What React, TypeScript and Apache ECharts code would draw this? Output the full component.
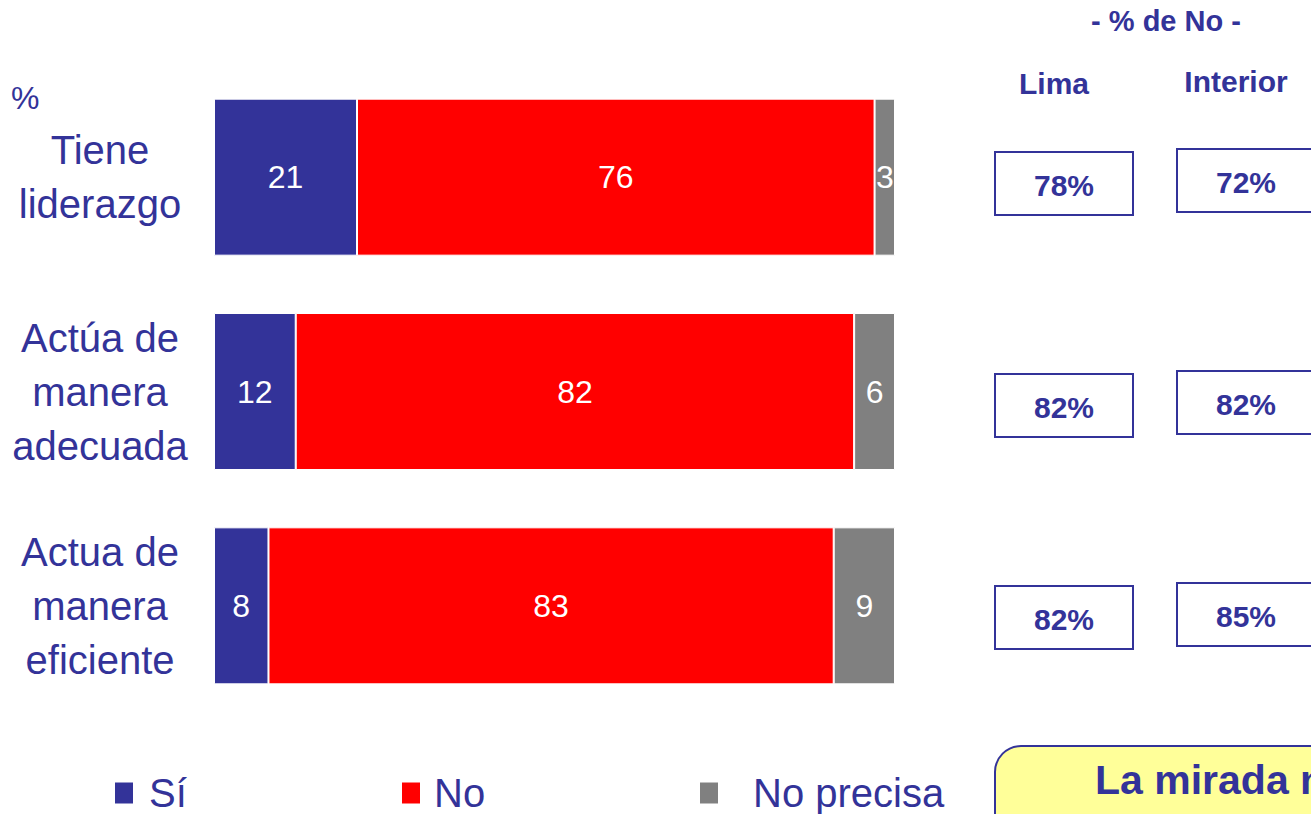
import React, { useEffect, useRef } from "react";
import * as echarts from "echarts";

const categories = ["Tiene\nliderazgo", "Actúa de\nmanera\nadecuada", "Actua de\nmanera\neficiente"];
const siValues = [21, 12, 8];
const noValues = [76, 82, 83];
const noPrecisaValues = [3, 6, 9];
const limaNo = [78, 82, 82];
const interiorNo = [72, 82, 85];
const seriesNames = ["Sí", "No", "No precisa"];

const FONT = "Liberation Sans, Arial, sans-serif";
const BLUE = "#333399";

// layout constants (positions only)
const limaBoxTop = [152, 374, 586];
const interiorBoxTop = [149, 371, 583];

export default function App() {
  const ref = useRef<HTMLDivElement>(null);
  useEffect(() => {
    if (!ref.current) return;
    const chart = echarts.init(ref.current, undefined, { renderer: "svg" });

    const boxes: any[] = [];
    limaNo.forEach((v, i) => {
      boxes.push({
        type: "rect",
        shape: { x: 995, y: limaBoxTop[i], width: 138, height: 63 },
        style: { fill: "#fff", stroke: BLUE, lineWidth: 2 },
      });
      boxes.push({
        type: "text",
        x: 1064,
        y: limaBoxTop[i] + 33,
        style: { text: v + "%", fill: BLUE, font: `bold 30px ${FONT}`, align: "center", verticalAlign: "middle" },
      });
    });
    interiorNo.forEach((v, i) => {
      boxes.push({
        type: "rect",
        shape: { x: 1177, y: interiorBoxTop[i], width: 138, height: 63 },
        style: { fill: "#fff", stroke: BLUE, lineWidth: 2 },
      });
      boxes.push({
        type: "text",
        x: 1246,
        y: interiorBoxTop[i] + 33,
        style: { text: v + "%", fill: BLUE, font: `bold 30px ${FONT}`, align: "center", verticalAlign: "middle" },
      });
    });

    const legendBase = {
      orient: "horizontal",
      top: 773,
      padding: 0,
      itemWidth: 20,
      itemHeight: 23,
      icon: "rect",
      selectedMode: false,
    };

    chart.setOption({
      animation: false,
      textStyle: { fontFamily: FONT },
      color: [BLUE, "#FF0000", "#808080"],
      grid: { left: 214, right: 416, top: 70, bottom: 101 },
      xAxis: { type: "value", min: 0, max: 100, show: false },
      yAxis: {
        type: "category",
        data: categories,
        inverse: true,
        axisLine: { show: false },
        axisTick: { show: false },
        splitLine: { show: false },
        axisLabel: {
          fontSize: 40,
          lineHeight: 54,
          color: BLUE,
          align: "center",
          margin: 114,
          fontFamily: FONT,
        },
      },
      legend: [
        { ...legendBase, left: 113, data: [seriesNames[0]], textStyle: { fontSize: 40, color: BLUE, fontFamily: FONT, padding: [0, 0, 0, 10] } },
        { ...legendBase, left: 400, data: [seriesNames[1]], textStyle: { fontSize: 40, color: BLUE, fontFamily: FONT, padding: [0, 0, 0, 8] } },
        { ...legendBase, left: 698, data: [seriesNames[2]], textStyle: { fontSize: 40, color: BLUE, fontFamily: FONT, padding: [0, 0, 0, 29] } },
      ],
      series: [siValues, noValues, noPrecisaValues].map((vals, i) => ({
        name: seriesNames[i],
        type: "bar",
        stack: "total",
        barWidth: 157,
        data: vals,
        itemStyle: { borderColor: "#fff", borderWidth: 1 },
        label: {
          show: true,
          position: "inside",
          color: "#fff",
          fontSize: 32,
          fontFamily: FONT,
        },
      })),
      graphic: [
        { type: "text", x: 11, y: 82, style: { text: "%", fill: BLUE, font: `32px ${FONT}` } },
        { type: "text", x: 1166, y: 21, style: { text: "- % de No -", fill: BLUE, font: `bold 29px ${FONT}`, align: "center", verticalAlign: "middle" } },
        { type: "text", x: 1054, y: 83, style: { text: "Lima", fill: BLUE, font: `bold 30px ${FONT}`, align: "center", verticalAlign: "middle" } },
        { type: "text", x: 1236, y: 81, style: { text: "Interior", fill: BLUE, font: `bold 30px ${FONT}`, align: "center", verticalAlign: "middle" } },
        ...boxes,
        {
          type: "rect",
          shape: { x: 995, y: 746, width: 400, height: 120, r: [26, 0, 0, 0] },
          style: { fill: "#FFFF99", stroke: BLUE, lineWidth: 2 },
        },
        { type: "text", x: 1095, y: 780, style: { text: "La mirada nacional", fill: BLUE, font: `bold 41px ${FONT}`, verticalAlign: "middle" } },
      ],
    });
    return () => chart.dispose();
  }, []);
  return <div ref={ref} style={{ position: "fixed", left: 0, top: 0, width: 1311, height: 814, background: "#fff" }} />;
}
